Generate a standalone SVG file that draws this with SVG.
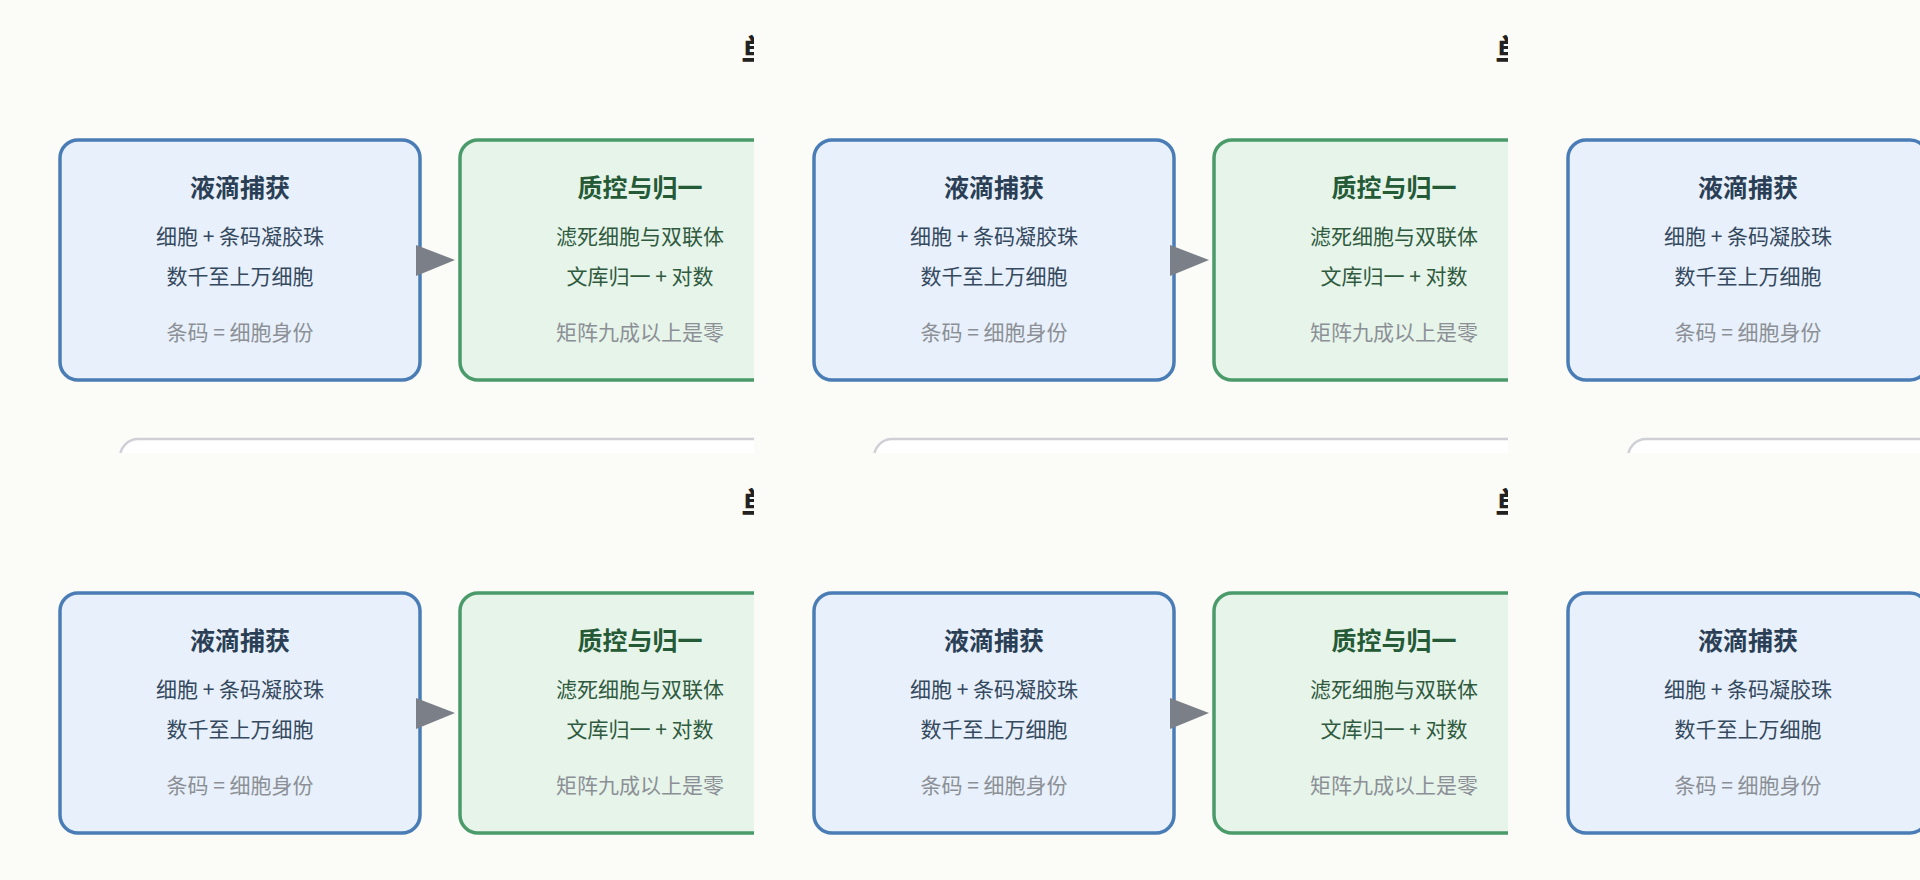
<svg xmlns="http://www.w3.org/2000/svg" xmlns:xlink="http://www.w3.org/1999/xlink" width="1920" height="880" viewBox="0 0 1920 880">
<style>
text{font-family:"Noto Sans CJK SC","Noto Sans",sans-serif;text-anchor:middle}
.t{font-size:25px;font-weight:bold}
.l{font-size:21px}
.g{font-size:21px;fill:#8c9096}
.bb{fill:#e8f0fb;stroke:#4a7db5;stroke-width:3.5}
.gb{fill:#e6f4ea;stroke:#4a9a6a;stroke-width:3.5}
</style>
<defs>
<clipPath id="c"><rect x="0" y="0" width="754" height="453"/></clipPath>
<g id="tile" clip-path="url(#c)">
<text x="741" y="64" text-anchor="start" style="text-anchor:start;font-size:34px;font-weight:bold;fill:#222">单</text>
<g id="n1">
<rect class="bb" x="60" y="140" width="360" height="240" rx="18"/>
<text class="t" x="240" y="197" fill="#2a3f55">液滴捕获</text>
<text class="l" x="240" y="244" fill="#34495e">细胞 + 条码凝胶珠</text>
<text class="l" x="240" y="284" fill="#34495e">数千至上万细胞</text>
<text class="g" x="240" y="340">条码 = 细胞身份</text>
</g>
<g id="n2">
<rect class="gb" x="460" y="140" width="360" height="240" rx="18"/>
<text class="t" x="640" y="197" fill="#245a35">质控与归一</text>
<text class="l" x="640" y="244" fill="#2f5a3d">滤死细胞与双联体</text>
<text class="l" x="640" y="284" fill="#2f5a3d">文库归一 + 对数</text>
<text class="g" x="640" y="340">矩阵九成以上是零</text>
</g>
<g id="connectors"><polygon points="416,245 455,260 416,276" fill="#7b7f87"/></g>
<rect x="120" y="439" width="900" height="60" rx="18" fill="#fff" stroke="#cfd0d6" stroke-width="2.5"/>
</g>
</defs>
<rect width="1920" height="880" fill="#fbfcf8"/>
<use xlink:href="#tile" x="0" y="0"/>
<use xlink:href="#tile" x="754" y="0"/>
<use xlink:href="#tile" x="1508" y="0"/>
<use xlink:href="#tile" x="0" y="453"/>
<use xlink:href="#tile" x="754" y="453"/>
<use xlink:href="#tile" x="1508" y="453"/>
</svg>
